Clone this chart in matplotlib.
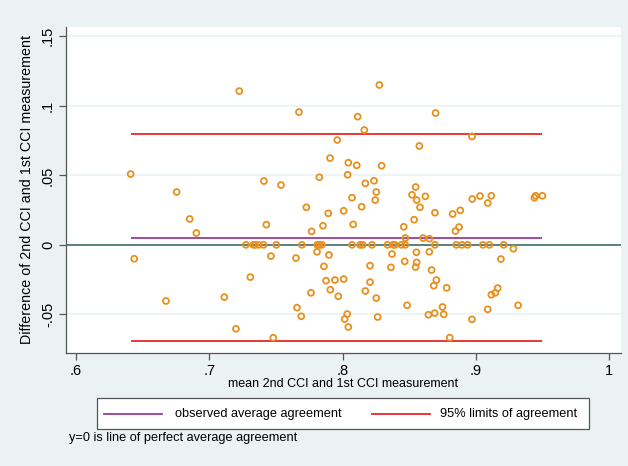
import matplotlib
matplotlib.use("Agg")
import matplotlib.pyplot as plt
import numpy as np
from matplotlib.lines import Line2D
from matplotlib.patches import Rectangle

plt.rcParams['font.family'] = ['Liberation Sans', 'DejaVu Sans']

mean_cci = [
    0.7225, 0.641, 0.6755, 0.741, 0.8276, 0.7673, 0.8113, 0.8163, 0.796, 0.7906,
    0.8043, 0.8106, 0.8293, 0.7826, 0.8038, 0.7538, 0.8171, 0.8236, 0.8253, 0.8071,
    0.8143, 0.8245, 0.7728, 0.7893, 0.8008, 0.8698, 0.8971, 0.8576, 0.8548, 0.8521,
    0.8556, 0.8621, 0.8581, 0.8693, 0.8826, 0.8883, 0.8973, 0.9031, 0.9116, 0.9089,
    0.9439, 0.9449, 0.9499,
    0.6853, 0.6903, 0.7428, 0.7853, 0.808, 0.7768, 0.8459, 0.8537, 0.8874, 0.8847,
    0.8471, 0.8604, 0.8651,
    0.7275, 0.733, 0.7345, 0.7371, 0.7407, 0.7503, 0.7695, 0.781, 0.7825, 0.7845,
    0.8071, 0.8131, 0.8151, 0.8221, 0.8337, 0.8378, 0.8393, 0.8442, 0.847, 0.8693,
    0.8853, 0.8896, 0.8938, 0.9053, 0.9101, 0.9209,
    0.6437, 0.7308, 0.6675, 0.7113, 0.72, 0.7463, 0.765, 0.7808, 0.7898, 0.786,
    0.8206, 0.8371, 0.8363, 0.7876, 0.7943, 0.8008, 0.8206, 0.7908, 0.7763, 0.7968,
    0.8171, 0.8253, 0.7658, 0.769, 0.8035, 0.8016, 0.8263, 0.8043, 0.748, 0.9282,
    0.8554, 0.8651, 0.8466, 0.8556, 0.8548, 0.8668, 0.9188, 0.8704, 0.8684, 0.8781,
    0.9164, 0.9146, 0.9116, 0.8484, 0.875, 0.9089, 0.9317, 0.8644, 0.8691, 0.8759,
    0.8971, 0.8804,
]
diff_cci = [
    0.1106, 0.0509, 0.038, 0.0459, 0.115, 0.0955, 0.0922, 0.0826, 0.0754, 0.0624,
    0.0591, 0.0572, 0.0569, 0.0486, 0.0504, 0.043, 0.0442, 0.0461, 0.038, 0.0339,
    0.0274, 0.0322, 0.027, 0.0227, 0.0245, 0.0948, 0.078, 0.0711, 0.0416, 0.036,
    0.0322, 0.0349, 0.027, 0.0231, 0.0222, 0.0248, 0.033, 0.0351, 0.0353, 0.0301,
    0.0339, 0.0353, 0.0353,
    0.0186, 0.0085, 0.0145, 0.0137, 0.0147, 0.0097, 0.013, 0.0181, 0.0128, 0.0099,
    0.0049, 0.0049, 0.0044,
    0, 0, 0, 0, 0, 0, 0, 0, 0, 0,
    0, 0, 0, 0, 0, 0, 0, 0, 0, 0,
    0, 0, 0, 0, 0, 0,
    -0.010, -0.0232, -0.0404, -0.0376, -0.0604, -0.0081, -0.0095, -0.005, -0.0073, -0.0155,
    -0.015, -0.0066, -0.0162, -0.0258, -0.0253, -0.0246, -0.0268, -0.0323, -0.0345, -0.037,
    -0.0332, -0.0383, -0.0452, -0.0514, -0.0498, -0.0534, -0.0519, -0.0591, -0.0668, -0.0028,
    -0.0054, -0.005, -0.0119, -0.0126, -0.016, -0.0181, -0.0102, -0.0253, -0.0294, -0.0309,
    -0.0311, -0.0345, -0.0359, -0.0435, -0.0447, -0.0464, -0.0435, -0.0503, -0.0491, -0.05,
    -0.0536, -0.0668,
]
mean_diff = 0.0049
loa_upper = 0.0795
loa_lower = -0.0690

xticks = [0.6, 0.7, 0.8, 0.9, 1.0]
xticklabels = ['.6', '.7', '.8', '.9', '1']
yticks = [-0.05, 0, 0.05, 0.1, 0.15]
yticklabels = ['-.05', '0', '.05', '.1', '.15']

W, H = 628, 466
bg = '#EAF2F3'
c_mean = '#9B3A9A'
c_loa = '#E8262B'

fig = plt.figure(figsize=(6.28, 4.66), dpi=100, facecolor=bg)
ax = fig.add_axes([66 / W, 1 - 353 / H, 555 / W, 326 / H])
ax.set_facecolor('white')

x = np.array(mean_cci)
y = np.array(diff_cci)
xmin, xmax = x.min(), x.max()

for t in yticks:
    ax.axhline(t, color=bg, lw=1.2, zorder=1)
ax.axhline(0, color='#3F6F6B', lw=1.2, zorder=2)
ax.hlines([loa_upper, loa_lower], xmin, xmax, color=c_loa, lw=1.3, zorder=3)
ax.hlines(mean_diff, xmin, xmax, color=c_mean, lw=1.3, zorder=3)
ax.scatter(x, y, s=18, facecolors='none', edgecolors='#E8901E', linewidths=1.3, zorder=4)

ax.set_xlim(0.5925, 1.0089)
ax.set_ylim(-0.0778, 0.1567)
ax.set_xticks(xticks)
ax.set_xticklabels(xticklabels, fontsize=10.5)
ax.set_yticks(yticks)
ax.set_yticklabels(yticklabels, fontsize=10.5, rotation=90, va='center')
ax.tick_params(direction='out', length=5, color='#555555', width=0.9, pad=3)
for side in ['top', 'right']:
    ax.spines[side].set_visible(False)
for side in ['left', 'bottom']:
    ax.spines[side].set_color('#555555')
    ax.spines[side].set_linewidth(0.9)

ax.set_xlabel('mean 2nd CCI and 1st CCI measurement', fontsize=9, labelpad=0)
ax.set_ylabel('Difference of 2nd CCI and 1st CCI measurement', fontsize=10.3, labelpad=5)

# legend box drawn by hand, Stata style
fig.patches.append(Rectangle((97 / W, 1 - 429 / H), 492 / W, 31 / H, transform=fig.transFigure,
                             facecolor='white', edgecolor='#555555', lw=0.9))
ly = 1 - 413.5 / H
fig.add_artist(Line2D([104 / W, 162 / W], [ly, ly], color=c_mean, lw=1.3))
fig.text(175 / W, ly, 'observed average agreement', fontsize=9.2, va='center', ha='left')
fig.add_artist(Line2D([372 / W, 430 / W], [ly, ly], color=c_loa, lw=1.3))
fig.text(440 / W, ly, '95% limits of agreement', fontsize=9.2, va='center', ha='left')

fig.text(69 / W, 1 - 438 / H, 'y=0 is line of perfect average agreement',
         fontsize=9.2, va='center', ha='left')

fig.savefig('out.png', dpi=100, facecolor=bg)
